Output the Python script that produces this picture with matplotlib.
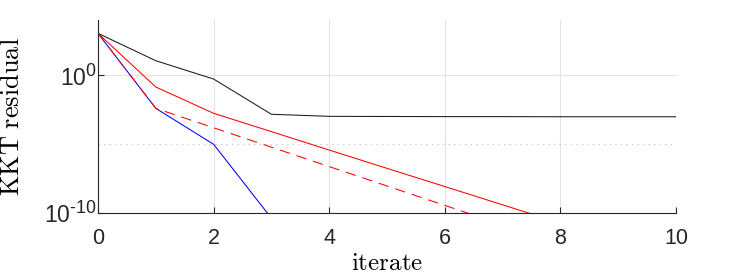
import numpy as np
import matplotlib
matplotlib.use("Agg")
import matplotlib.pyplot as plt
import matplotlib._mathtext as _mt
from matplotlib.ticker import FixedLocator, FuncFormatter

_mt.SHRINK_FACTOR = 0.78
plt.rcParams['mathtext.fontset'] = 'custom'
plt.rcParams['mathtext.rm'] = 'Liberation Sans'
plt.rcParams['mathtext.it'] = 'Liberation Sans'
plt.rcParams['font.family'] = ['Liberation Sans', 'DejaVu Sans']
plt.rcParams['lines.scale_dashes'] = False

# log10 of KKT residual per iterate
it_black = [0, 1, 2, 3, 4, 5, 6, 7, 8, 9, 10]
log_black = [3.03, 1.04, -0.29, -2.85, -3.0, -3.01, -3.02, -3.02, -3.03, -3.03, -3.03]

it_red = [0, 1, 2, 3, 4, 5, 6, 7, 8]
log_red = [3.03, -0.87, -2.78, -4.11, -5.45, -6.78, -8.1, -9.43, -10.76]

it_red_dash = [0, 1, 2, 3, 4, 5, 6, 7]
log_red_dash = [3.03, -2.42, -3.83, -5.24, -6.65, -8.06, -9.47, -10.88]

it_blue = [0, 1, 2, 3]
log_blue = [3.03, -2.42, -5.03, -10.4]

y_ticks = [1e-10, 1e0]
x_ticks = [0, 2, 4, 6, 8, 10]


def fmt_pow(v, p):
    e = int(round(np.log10(v)))
    s = str(e).replace('-', '\u2010')
    return r'$10^{%s}$' % s


fig = plt.figure(figsize=(7.47, 2.80), dpi=100)
ax = fig.add_axes([0.1312, 0.2404, 0.7738, 0.6882])

lw = 0.75
ax.plot(it_black, 10.0 ** np.array(log_black), color='#1a1a1a', lw=lw)
ax.plot(it_blue, 10.0 ** np.array(log_blue), color='#0000ff', lw=lw)
ax.plot(it_red, 10.0 ** np.array(log_red), color='#ff0000', lw=lw)
ax.plot(it_red_dash, 10.0 ** np.array(log_red_dash), color='#ff0000', lw=lw,
        dashes=(7.5, 5))

ax.set_yscale('log')
ax.set_xlim(0, 10)
ax.set_ylim(1e-10, 1e4)
ax.set_xticks(x_ticks)
ax.yaxis.set_major_locator(FixedLocator(y_ticks))
ax.yaxis.set_minor_locator(FixedLocator([1e-5]))
ax.yaxis.set_major_formatter(FuncFormatter(fmt_pow))
ax.yaxis.set_minor_formatter(FuncFormatter(lambda v, p: ''))

ax.grid(True, which='major', color='#e3e3e3', lw=0.8, ls='-')
ax.grid(True, which='minor', axis='y', color='#c8c8c8', lw=0.8, ls=(0, (1, 3)))
ax.set_axisbelow(True)

for s in ['top', 'right']:
    ax.spines[s].set_visible(False)
for s in ['left', 'bottom']:
    ax.spines[s].set_color('#262626')
    ax.spines[s].set_linewidth(0.8)

ax.tick_params(which='major', direction='in', length=4, width=0.8, colors='#262626',
               labelcolor='#262626')
ax.tick_params(which='minor', length=0)
ax.tick_params(axis='x', pad=11, labelsize=15.5)
ax.tick_params(axis='y', pad=1, labelsize=16.5)

ax.set_xlabel(r'$\mathrm{iterate}$', fontsize=18, math_fontfamily='cm')
ax.set_ylabel(r'$\mathrm{KKT\ residual}$', fontsize=19, math_fontfamily='cm')
ax.xaxis.set_label_coords(0.5, -0.200)
ax.yaxis.set_label_coords(-0.128, 0.5)

fig.savefig('out.png', dpi=100)
